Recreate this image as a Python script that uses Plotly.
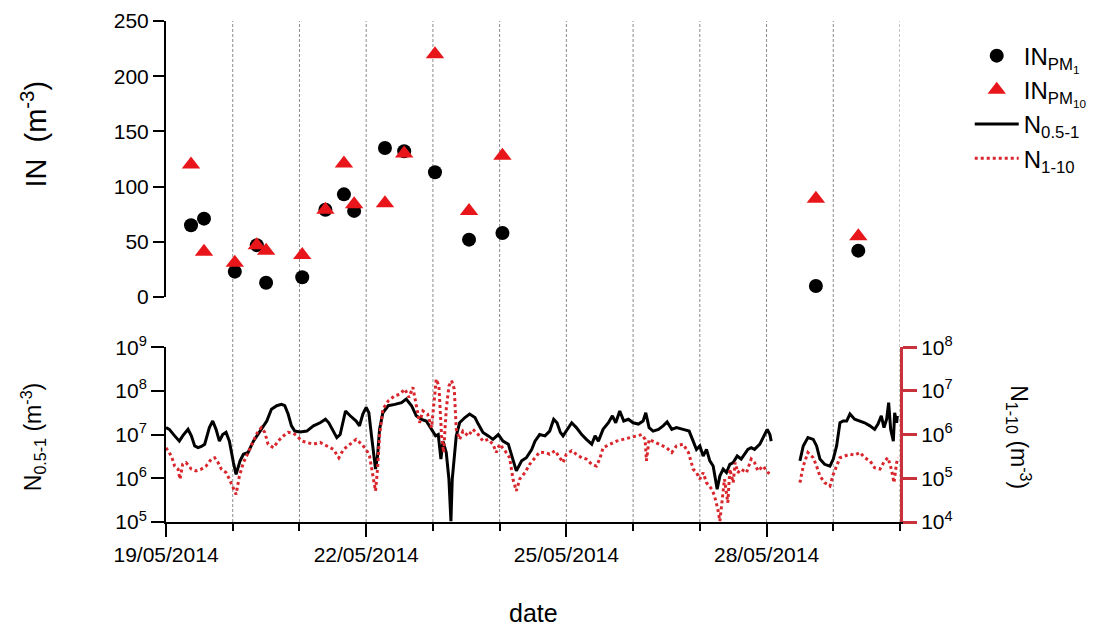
import pandas as pd
import plotly.graph_objects as go

START = pd.Timestamp("2014-05-19")
DAY_MS = 86400000

# ---- ice-nucleating particle samples (top panel) ----
in_times = [
    "2014-05-19 09:00", "2014-05-19 13:40", "2014-05-20 00:45", "2014-05-20 08:40",
    "2014-05-20 12:00", "2014-05-21 01:00", "2014-05-21 09:20", "2014-05-21 16:00",
    "2014-05-21 19:40", "2014-05-22 06:45", "2014-05-22 13:40", "2014-05-23 00:45",
    "2014-05-23 13:00", "2014-05-24 01:00", "2014-05-28 17:45", "2014-05-29 09:00",
]
in_pm1 = [65, 71, 23, 47, 13, 18, 79, 93, 78, 135, 132, 113, 52, 58, 10, 42]
in_pm10 = [120, 41, 31, 47, 42, 38, 79, 121, 84, 85, 130, 220, 78, 128, 89, 55]

# ---- particle number concentrations (bottom panel) ----
# elapsed days since 19/05/2014 00:00 ; None marks the instrument gap
n05_days = [
    0.00, 0.05, 0.13, 0.20, 0.25, 0.33, 0.38, 0.43, 0.48, 0.53,
    0.58, 0.65, 0.70, 0.75, 0.80, 0.85, 0.90, 0.95, 1.01, 1.05,
    1.11, 1.16, 1.23, 1.31, 1.41, 1.51, 1.58, 1.66, 1.73, 1.78,
    1.83, 1.88, 1.93, 2.01, 2.11, 2.21, 2.31, 2.39, 2.44, 2.51,
    2.56, 2.61, 2.69, 2.76,
    2.85, 2.90, 2.95, 3.00, 3.04, 3.08, 3.12, 3.14, 3.17, 3.20,
    3.25, 3.33, 3.43, 3.53, 3.60, 3.68, 3.75, 3.83, 3.90, 3.98,
    4.04, 4.08, 4.12, 4.15, 4.20, 4.24, 4.27, 4.29, 4.32, 4.35,
    4.40, 4.48, 4.55, 4.63, 4.68, 4.75, 4.83, 4.90, 4.98, 5.05,
    5.13, 5.20, 5.25, 5.33, 5.40, 5.48, 5.53,
    5.60, 5.68, 5.75, 5.81, 5.86, 5.91, 5.95, 6.00, 6.08, 6.15,
    6.23, 6.30, 6.38, 6.43, 6.48, 6.55, 6.63, 6.69, 6.74, 6.80,
    6.86, 6.93, 7.00, 7.08, 7.15, 7.19, 7.24, 7.30, 7.38, 7.45,
    7.51, 7.58, 7.65, 7.75, 7.84, 7.90, 7.95, 8.00, 8.05, 8.10,
    8.15, 8.20,
    8.26, 8.30, 8.35, 8.40, 8.45, 8.50, 8.56, 8.62, 8.67, 8.72,
    8.77, 8.82, 8.90, 8.97, 9.01, 9.05, 9.07,
    9.30,
    9.50, 9.55, 9.62, 9.70, 9.75, 9.80, 9.87, 9.95, 10.00, 10.05,
    10.10, 10.15, 10.20, 10.25, 10.32, 10.40, 10.47, 10.55, 10.62, 10.67,
    10.72, 10.76, 10.80, 10.83, 10.86, 10.90, 10.92, 10.95, 10.96,
]
# log10 of N0.5-1 (m^-3)
n05_log10 = [
    7.16, 7.12, 6.97, 6.85, 6.97, 7.12, 6.97, 6.74, 6.70, 6.73,
    6.78, 7.16, 7.31, 7.12, 6.85, 7.00, 7.05, 6.85, 6.36, 6.09,
    6.40, 6.55, 6.59, 6.85, 7.08, 7.31, 7.58, 7.66, 7.69, 7.66,
    7.47, 7.20, 7.08, 7.06, 7.08, 7.20, 7.27, 7.35, 7.27, 7.08,
    6.93, 7.00, 7.54, 7.43,
    7.31, 7.20, 7.47, 7.62, 7.50, 6.97, 6.51, 6.21, 6.51, 7.12,
    7.50, 7.66, 7.69, 7.73, 7.81, 7.66, 7.43, 7.35, 7.31, 7.12,
    6.97, 7.00, 6.44, 6.85, 6.59, 5.98, 5.02, 5.98, 6.44, 6.97,
    7.27, 7.39, 7.47, 7.39, 7.24, 7.05, 6.97, 6.89, 7.00, 6.85,
    6.78, 6.44, 6.17, 6.40, 6.47, 6.66, 6.85,
    7.00, 6.97, 7.08, 7.35, 7.27, 7.05, 6.97, 7.08, 7.27, 7.16,
    7.00, 6.89, 6.78, 6.97, 6.85, 7.12, 7.27, 7.43, 7.27, 7.54,
    7.31, 7.35, 7.27, 7.24, 7.31, 7.50, 7.16, 7.08, 7.12, 7.20,
    7.29, 7.12, 7.16, 7.12, 7.08, 6.85, 6.66, 6.74, 6.51, 6.66,
    6.40, 6.28,
    5.75, 6.05, 6.21, 6.13, 6.32, 6.36, 6.51, 6.44, 6.55, 6.66,
    6.70, 6.66, 6.78, 7.00, 7.12, 7.00, 6.85,
    None,
    6.40, 6.74, 6.93, 6.89, 6.74, 6.44, 6.32, 6.28, 6.44, 6.74,
    7.27, 7.31, 7.31, 7.47, 7.35, 7.31, 7.27, 7.20, 7.12, 7.24,
    7.43, 7.16, 7.35, 7.73, 7.12, 6.85, 7.50, 7.27, 7.43,
]

n110_days = [
    0.00, 0.08, 0.13, 0.18, 0.21, 0.25, 0.30, 0.38, 0.45, 0.53,
    0.60, 0.68, 0.73, 0.78, 0.83, 0.90, 0.95, 1.01, 1.05, 1.10,
    1.16, 1.22, 1.31, 1.38, 1.43, 1.48, 1.53, 1.61, 1.68, 1.76,
    1.83, 1.91, 1.96, 2.04, 2.11, 2.21, 2.31, 2.41, 2.51, 2.59,
    2.66, 2.76,
    2.85, 2.93, 3.00, 3.05, 3.10, 3.14, 3.17, 3.20, 3.25, 3.33,
    3.43, 3.50, 3.58, 3.64, 3.70, 3.75, 3.80, 3.85, 3.92, 3.98,
    4.02, 4.05, 4.09, 4.13, 4.16, 4.20, 4.24, 4.28, 4.32, 4.35,
    4.40, 4.45, 4.53, 4.60, 4.68, 4.75, 4.83, 4.90, 4.95, 5.00,
    5.08, 5.15, 5.20, 5.25, 5.30, 5.38, 5.45, 5.53,
    5.60, 5.68, 5.75, 5.83, 5.90, 5.95, 6.00, 6.08, 6.15, 6.23,
    6.30, 6.38, 6.45, 6.50, 6.55, 6.65, 6.75, 6.85, 6.95, 7.05,
    7.13, 7.18, 7.20, 7.24, 7.33, 7.43, 7.50, 7.58, 7.65, 7.75,
    7.83, 7.90, 7.95, 8.00, 8.05, 8.10, 8.18,
    8.22, 8.27, 8.30, 8.33, 8.37, 8.42, 8.45, 8.50, 8.53, 8.57,
    8.62, 8.70, 8.77, 8.82, 8.87, 8.95, 9.02, 9.07,
    9.30,
    9.50, 9.55, 9.62, 9.70, 9.75, 9.80, 9.87, 9.95, 10.00, 10.05,
    10.10, 10.17, 10.25, 10.32, 10.40, 10.47, 10.55, 10.62, 10.70, 10.77,
    10.82, 10.87, 10.91, 10.95, 10.97,
]
# log10 of N1-10 (m^-3)
n110_log10 = [
    5.70, 5.51, 5.28, 5.21, 4.98, 5.32, 5.36, 5.21, 5.17, 5.21,
    5.28, 5.44, 5.47, 5.36, 5.21, 5.13, 4.98, 4.75, 4.63, 5.05,
    5.36, 5.55, 5.85, 6.08, 6.16, 6.05, 5.78, 5.70, 5.85, 5.97,
    6.05, 6.03, 5.97, 5.85, 5.82, 5.78, 5.82, 5.74, 5.66, 5.47,
    5.66, 5.78,
    5.89, 5.78, 5.66, 5.51, 5.05, 4.71, 5.21, 5.97, 6.58, 6.77,
    6.89, 6.92, 7.04, 6.85, 7.08, 6.66, 6.27, 6.54, 6.47, 6.16,
    6.73, 7.27, 7.11, 5.97, 5.59, 6.58, 7.11, 7.23, 7.04, 6.12,
    5.89, 6.08, 5.97, 6.12, 6.00, 5.85, 5.89, 5.78, 5.59, 5.78,
    5.63, 5.47, 4.98, 4.71, 4.98, 5.13, 5.32, 5.47,
    5.60, 5.59, 5.55, 5.63, 5.47, 5.36, 5.55, 5.63, 5.55, 5.47,
    5.44, 5.32, 5.28, 5.44, 5.70, 5.78, 5.85, 5.89, 5.93, 5.97,
    6.00, 5.89, 5.40, 5.89, 5.82, 5.74, 5.70, 5.59, 5.74, 5.78,
    5.59, 5.21, 5.13, 4.98, 5.13, 4.90, 4.75,
    4.60, 4.29, 4.02, 4.44, 4.98, 4.44, 5.21, 4.90, 5.36, 5.13,
    5.21, 5.13, 5.44, 5.36, 5.17, 5.28, 5.13, 5.09,
    None,
    4.90, 5.28, 5.59, 5.47, 5.28, 5.05, 4.90, 4.82, 5.09, 5.28,
    5.47, 5.51, 5.55, 5.53, 5.59, 5.47, 5.40, 5.24, 5.21, 5.40,
    5.47, 5.21, 4.90, 5.36, 5.47,
]

left_ticks = [5, 6, 7, 8, 9]
right_ticks = [4, 5, 6, 7, 8]

FONT = "Liberation Sans, Arial, sans-serif"
RED_MARK = "#e8161b"
RED_LINE = "#d8262c"
RED_AXIS = "#c8323c"


def as_time(days):
    return [START + pd.Timedelta(days=d) for d in days]


def from_log(vals):
    return [None if v is None else 10 ** v for v in vals]


fig = go.Figure()

fig.add_trace(go.Scatter(
    x=pd.to_datetime(in_times), y=in_pm1, mode="markers", name="IN<sub>PM<sub>1</sub></sub>",
    marker=dict(symbol="circle", size=14, color="black"), xaxis="x", yaxis="y",
))
fig.add_trace(go.Scatter(
    x=pd.to_datetime(in_times), y=in_pm10, mode="markers", name="IN<sub>PM<sub>10</sub></sub>",
    marker=dict(symbol="triangle-up", size=16, color=RED_MARK), xaxis="x", yaxis="y",
))
fig.add_trace(go.Scatter(
    x=as_time(n05_days), y=from_log(n05_log10), mode="lines", name="N<sub>0.5-1</sub>",
    line=dict(color="black", width=3), xaxis="x2", yaxis="y2",
))
fig.add_trace(go.Scatter(
    x=as_time(n110_days), y=from_log(n110_log10), mode="lines", name="N<sub>1-10</sub>",
    line=dict(color=RED_LINE, width=3, dash="dot"), xaxis="x2", yaxis="y3",
))

x_end = START + pd.Timedelta(days=11)

# daily dashed guide lines spanning both panels
shapes = []
for d in pd.date_range(START + pd.Timedelta(days=1), x_end, freq="D"):
    shapes.append(dict(
        type="line", xref="x2", yref="paper", x0=d, x1=d, y0=0, y1=1,
        line=dict(color="#8a8a8a", width=1, dash="3px,2px"), layer="below",
    ))

tick_font = dict(family=FONT, size=21, color="black")

fig.update_layout(
    width=1101, height=633,
    margin=dict(l=166, r=201, t=21, b=111, autoexpand=False),
    paper_bgcolor="white", plot_bgcolor="white",
    font=dict(family=FONT, color="black"),
    shapes=shapes,
    showlegend=True,
    legend=dict(
        x=1.095, y=0.975, xanchor="left", yanchor="top",
        font=dict(family=FONT, size=24, color="black"),
        bgcolor="rgba(0,0,0,0)", tracegroupgap=0, itemwidth=44,
    ),
    xaxis=dict(
        domain=[0, 1], anchor="y", matches="x2", visible=False,
        range=[START, x_end],
    ),
    yaxis=dict(
        domain=[0.449, 1], anchor="x", range=[0, 250],
        tickvals=[0, 50, 100, 150, 200, 250],
        ticks="outside", ticklen=11, tickwidth=2, tickcolor="black",
        showline=True, linewidth=2, linecolor="black",
        showgrid=False, zeroline=False, tickfont=tick_font,
    ),
    xaxis2=dict(
        domain=[0, 1], anchor="y2", type="date", range=[START, x_end],
        tick0=START, dtick=3 * DAY_MS, tickformat="%d/%m/%Y",
        ticks="outside", ticklen=13, tickwidth=2, tickcolor="black",
        minor=dict(dtick=DAY_MS, ticks="outside", ticklen=7, tickwidth=2, tickcolor="black"),
        showline=True, linewidth=2, linecolor="black",
        showgrid=False, zeroline=False, tickfont=tick_font,
    ),
    yaxis2=dict(
        domain=[0, 0.349], anchor="x2", type="log", range=[5, 9],
        tickvals=[10 ** t for t in left_ticks],
        ticktext=[f"10<sup>{t}</sup>" for t in left_ticks],
        ticks="outside", ticklen=13, tickwidth=2, tickcolor="black",
        showline=True, linewidth=2, linecolor="black",
        showgrid=False, zeroline=False, tickfont=tick_font,
    ),
    yaxis3=dict(
        overlaying="y2", anchor="x2", side="right", type="log", range=[4, 8],
        tickvals=[10 ** t for t in right_ticks],
        ticktext=[f"10<sup>{t}</sup>" for t in right_ticks],
        ticks="outside", ticklen=14, tickwidth=3, tickcolor=RED_AXIS,
        showline=True, linewidth=3, linecolor=RED_AXIS,
        showgrid=False, zeroline=False, tickfont=tick_font,
    ),
    annotations=[
        dict(text="IN  (m<sup>-3</sup>)", xref="paper", yref="paper", x=-0.18, y=0.775,
             textangle=-90, showarrow=False, xanchor="center", yanchor="middle",
             font=dict(family=FONT, size=29, color="black")),
        dict(text="N<sub>0.5-1</sub> (m<sup>-3</sup>)", xref="paper", yref="paper",
             x=-0.182, y=0.17, textangle=-90, showarrow=False,
             xanchor="center", yanchor="middle",
             font=dict(family=FONT, size=23, color="black")),
        dict(text="N<sub>1-10</sub> (m<sup>-3</sup>)", xref="paper", yref="paper",
             x=1.163, y=0.17, textangle=90, showarrow=False,
             xanchor="center", yanchor="middle",
             font=dict(family=FONT, size=23, color="black")),
        dict(text="date", xref="paper", yref="paper", x=0.5, y=-0.182,
             showarrow=False, xanchor="center", yanchor="middle",
             font=dict(family=FONT, size=25, color="black")),
    ],
)

fig.write_html("out.html")
